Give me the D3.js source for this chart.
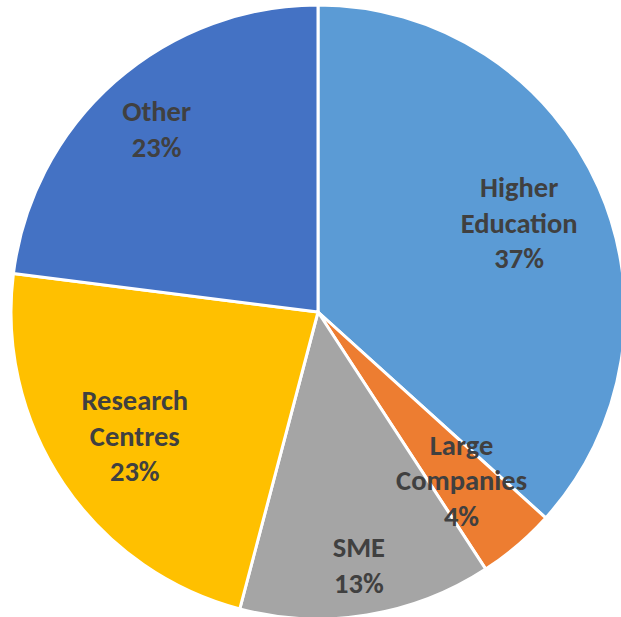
<!DOCTYPE html>
<html><head><meta charset="utf-8">
<script src="https://cdn.jsdelivr.net/npm/d3@7"></script>
<style>html,body{margin:0;padding:0;background:#fff;overflow:hidden}</style>
</head><body><svg id="c" width="621" height="617"></svg>
<script>
const categories = ["Higher Education", "Large Companies", "SME", "Research Centres", "Other"];
const values = [36.7, 4.1, 13.3, 22.9, 23.0];
const pctLabels = ["37%", "4%", "13%", "23%", "23%"];
const labelLines = [["Higher", "Education"], ["Large", "Companies"], ["SME"], ["Research", "Centres"], ["Other"]];
const colors = ["#5B9BD5", "#ED7D31", "#A5A5A5", "#FFC000", "#4472C4"];

const cx = 318, cy = 312, R = 307;
const labelDist = [0.717, 0.72, 0.835, 0.72, 0.795];

const svg = d3.select("#c");
const g = svg.append("g").attr("transform", `translate(${cx},${cy})`);
const pie = d3.pie().sort(null).value(d => d)(values);
const arc = d3.arc().innerRadius(0).outerRadius(R);
g.selectAll("path").data(pie).join("path")
  .attr("d", arc).attr("fill", (d, i) => colors[i])
  .attr("stroke", "#fff").attr("stroke-width", 3).attr("stroke-linejoin", "round");

const lh = 35.5;
pie.forEach((d, i) => {
  const a = (d.startAngle + d.endAngle) / 2;
  const r = R * labelDist[i];
  const x = Math.sin(a) * r, y = -Math.cos(a) * r;
  const lines = labelLines[i].concat([pctLabels[i]]);
  const t = g.append("text").attr("text-anchor", "middle")
    .attr("font-family", "Carlito, Lato, 'Open Sans', sans-serif").attr("font-weight", "bold")
    .attr("font-size", 28.5).attr("fill", "#404040");
  lines.forEach((s, k) => {
    t.append("tspan").attr("x", x).attr("y", y + (k - (lines.length - 1) / 2) * lh).attr("dy", "0.35em").text(s);
  });
});
</script></body></html>
